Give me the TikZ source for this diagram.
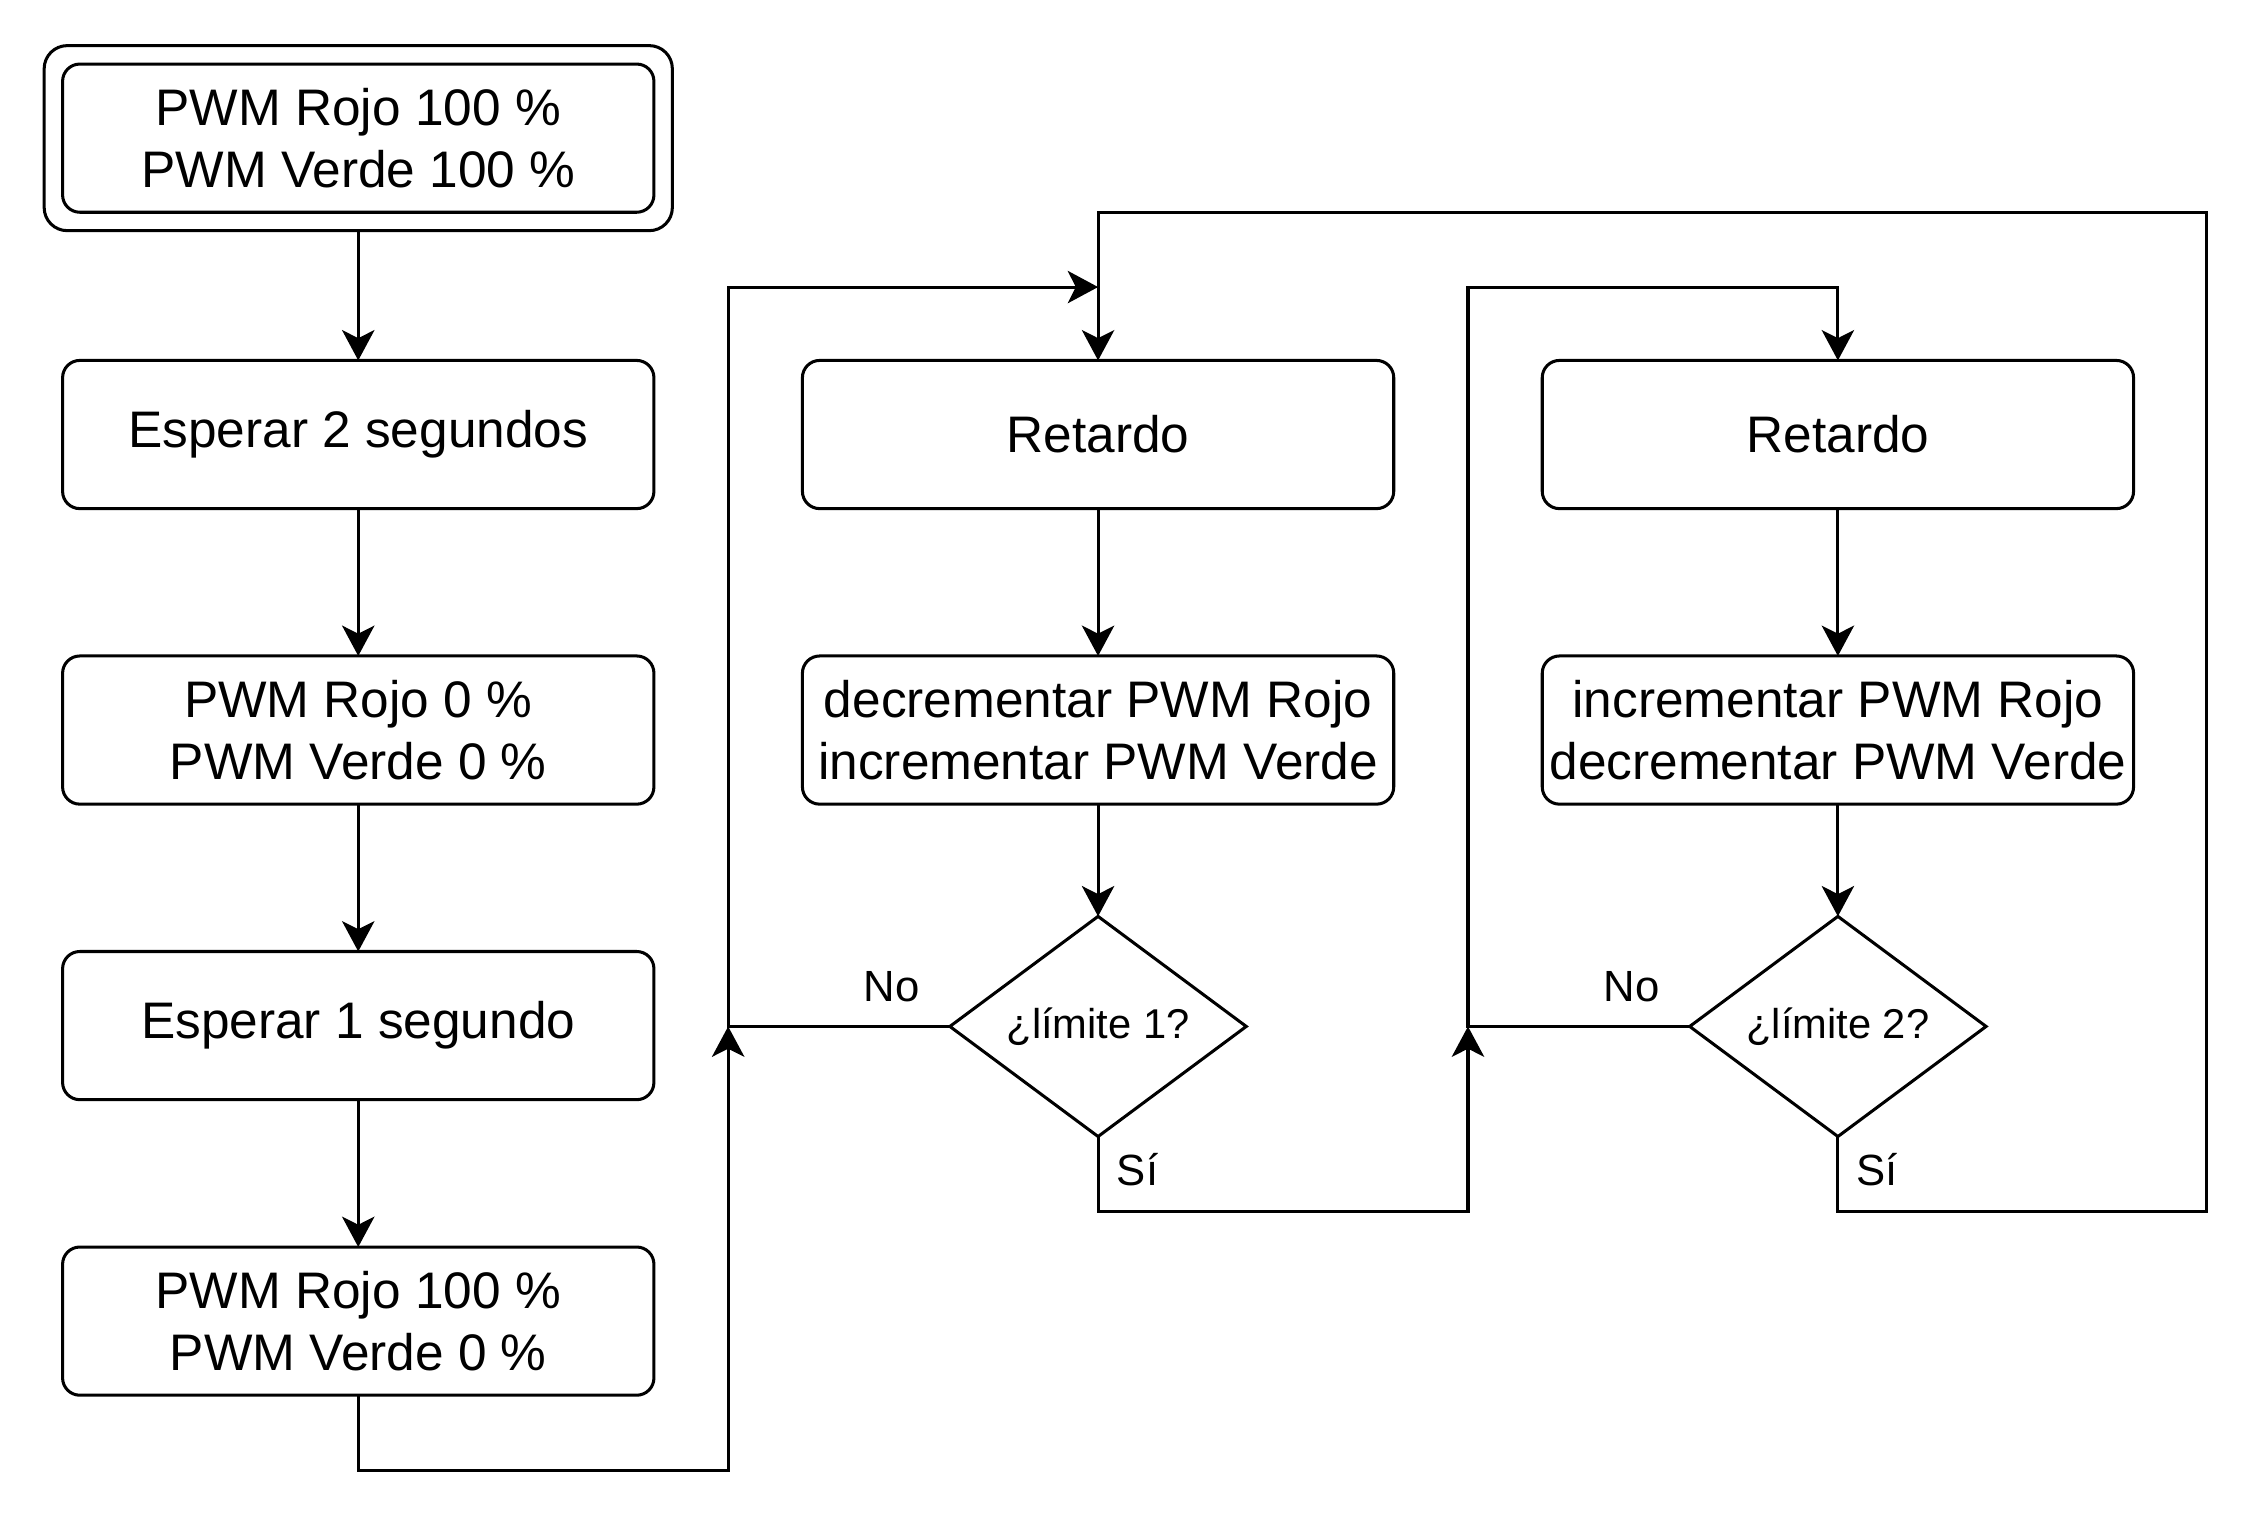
\documentclass[tikz,border=0pt]{standalone}
\usepackage{fontspec}
\setmainfont{Liberation Sans}
\usepackage{tikz}
\usetikzlibrary{arrows.meta, positioning, shapes.geometric, fit, calc}

\begin{document}
\begin{tikzpicture}[
        > = {Stealth[length=7.5pt, width=8pt, inset=2pt]}, % arrow head style
        node distance = 1.28cm, % distance between boxes
        line width = 0.75pt % line style
    ]
    \tikzstyle{caja}=[
        draw = black,
        rectangle,
        rounded corners = 0.15cm,
        inner xsep = 1pt,
        outer sep = 0pt,
        minimum width = 5.1375cm,
        minimum height = 1.2875cm,
        align = center,
        font = \fontsize{12.7}{15.3}\selectfont
    ]
    \tikzstyle{decision}=[
        draw = black,
        diamond,
        aspect = 1.35,
        inner sep = 0pt,
        outer sep = 0pt,
        minimum width = 2.575cm,
        minimum height = 1.9125cm,
        font = \fontsize{10.3}{12}\selectfont
    ]
    \tikzstyle{etiqueta}=[inner sep = 0pt, font = \fontsize{10.8}{13}\selectfont]

    \useasboundingbox (0,0) rectangle (19.6,-13.15);

    % first column
    \node[caja] (ini) at (3.1125,-1.2) {PWM Rojo 100 \%\\PWM Verde 100 \%};
    \node[draw, rounded corners = 0.2cm, fit = (ini), inner sep = 0.16cm, outer sep = 0pt] (iniborde) {};
    \node[caja] (esp2)[below=1.2875cm of ini] {Esperar 2 segundos};
    \node[caja] (off)[below=of esp2] {PWM Rojo 0 \%\\PWM Verde 0 \%};
    \node[caja] (esp1)[below=of off] {Esperar 1 segundo};
    \node[caja] (rojo)[below=of esp1] {PWM Rojo 100 \%\\PWM Verde 0 \%};

    % second column
    \node[caja] (ret1)[right=1.29cm of esp2] {Retardo};
    \node[caja] (cambio1)[below=of ret1] {decrementar PWM Rojo\\incrementar PWM Verde};
    \node[decision] (lim1)[below=0.975cm of cambio1] {¿límite 1?};

    % third column
    \node[caja] (ret2)[right=1.29cm of ret1] {Retardo};
    \node[caja] (cambio2)[below=of ret2] {incrementar PWM Rojo\\decrementar PWM Verde};
    \node[decision] (lim2)[below=0.975cm of cambio2] {¿límite 2?};

    \node[etiqueta, above left=0.2cm and 0.25cm of lim1.west] (no1) {No};
    \node[etiqueta, below right=0.13cm and 0.15cm of lim1.south] (si1) {Sí};
    \node[etiqueta, above left=0.2cm and 0.25cm of lim2.west] (no2) {No};
    \node[etiqueta, below right=0.13cm and 0.15cm of lim2.south] (si2) {Sí};

    \coordinate (j1) at ($(esp1.east |- lim1)!0.5!(ret1.west |- lim1)$);
    \coordinate (j2) at ($(cambio1.east |- lim2)!0.5!(cambio2.west |- lim2)$);
    \coordinate (arriba) at ([yshift=1.2875cm]ret1.north);
    \coordinate (borde) at ([xshift=0.6375cm]ret2.east);

    \draw[->] (iniborde) -- (esp2);
    \draw[->] (esp2) -- (off);
    \draw[->] (off) -- (esp1);
    \draw[->] (esp1) -- (rojo);
    \draw[->] (rojo.south) -- ++(0,-0.65) -| (j1);
    \draw[->] (lim1.west) -- (j1) |- ([yshift=0.6375cm]ret1.north);
    \draw[->] (ret1) -- (cambio1);
    \draw[->] (cambio1) -- (lim1);
    \draw[->] (lim1.south) -- ++(0,-0.65) -| (j2);
    \draw[->] (lim2.west) -- (j2) |- ([yshift=0.6375cm]ret2.north) -- (ret2.north);
    \draw[->] (ret2) -- (cambio2);
    \draw[->] (cambio2) -- (lim2);
    \draw[->] (lim2.south) -- ++(0,-0.65) -| (borde |- arriba) -- (arriba) -- (ret1.north);
\end{tikzpicture}
\end{document}
